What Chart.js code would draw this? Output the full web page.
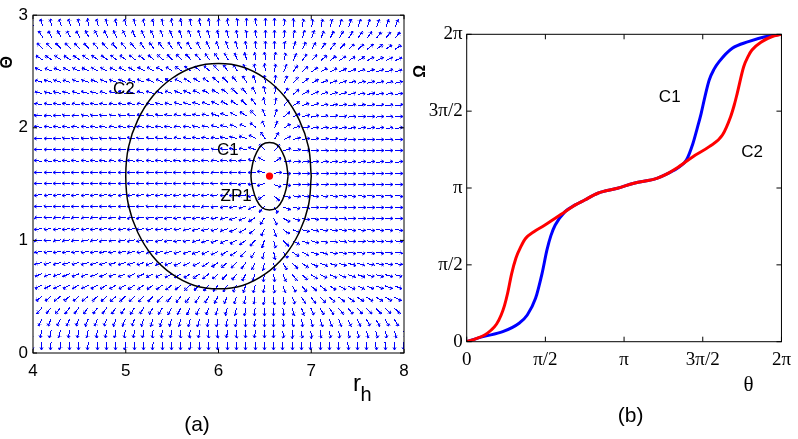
<!DOCTYPE html>
<html>
<head>
<meta charset="utf-8">
<script src="https://cdn.jsdelivr.net/npm/chart.js@4.4.1/dist/chart.umd.min.js"></script>
<style>
  html, body { margin: 0; padding: 0; background: #fff; }
  #wrap { position: relative; width: 798px; height: 439px; overflow: hidden; }
  canvas { position: absolute; top: 0; }
  #ca { left: 0; }
  #cb { left: 400px; }
</style>
</head>
<body>
<div id="wrap">
  <canvas id="ca" width="420" height="439"></canvas>
  <canvas id="cb" width="398" height="439"></canvas>
</div>
<script>
// ---- panel (a): vector field on the (r_h, Theta) plane ----
const rhGrid = [4.0, 4.1, 4.2, 4.3, 4.4, 4.5, 4.6, 4.7, 4.8, 4.9, 5.0, 5.1, 5.2, 5.3, 5.4, 5.5, 5.6, 5.7, 5.8, 5.9,
  6.0, 6.1, 6.2, 6.3, 6.4, 6.5, 6.6, 6.7, 6.8, 6.9, 7.0, 7.1, 7.2, 7.3, 7.4, 7.5, 7.6, 7.7, 7.8, 7.9, 8.0]
const thetaGrid = [0.1, 0.2, 0.3, 0.4, 0.5, 0.6, 0.7, 0.8, 0.9, 1.0, 1.1, 1.2, 1.3, 1.4, 1.5,
  1.6, 1.7, 1.8, 1.9, 2.0, 2.1, 2.2, 2.3, 2.4, 2.5, 2.6, 2.7, 2.8, 2.9]
// horizontal arrow component per r_h column
const fieldU = [-5.2, -5.1, -5.0, -4.9, -4.8, -4.7, -4.6, -4.5, -4.4, -4.3, -4.2, -4.0, -3.9, -3.7, -3.5, -3.3, -3.1,
  -2.9, -2.6, -2.3, -2.0, -1.7, -1.35, -1.0, -0.65, -0.25, 0.2, 0.8, 1.5, 2.2, 2.9, 3.6, 4.2, 4.7, 5.2, 5.6, 6.0,
  6.4, 6.8, 7.1, 7.4]
// vertical arrow component per Theta row
const fieldV = [-100, -25, -11, -6.1, -3.8, -2.6, -1.85, -1.35, -1.0, -0.76, -0.57, -0.42, -0.29, -0.18, -0.07,
  0.03, 0.13, 0.24, 0.36, 0.5, 0.68, 0.9, 1.2, 1.6, 2.2, 3.2, 5.0, 8.4, 17]

const c1Rh = [6.75, 6.73, 6.69, 6.63, 6.55, 6.47, 6.41, 6.37, 6.35, 6.37, 6.41, 6.47, 6.55, 6.63, 6.69, 6.73, 6.75]
const c1Th = [1.57, 1.69, 1.78, 1.85, 1.87, 1.85, 1.78, 1.69, 1.57, 1.46, 1.36, 1.29, 1.27, 1.29, 1.36, 1.46, 1.57]
const c2Rh = [7.00, 6.97, 6.87, 6.71, 6.50, 6.26, 6.00, 5.74, 5.50, 5.29, 5.13, 5.03, 5.00,
  5.03, 5.13, 5.29, 5.50, 5.74, 6.00, 6.26, 6.50, 6.71, 6.87, 6.97, 7.00]
const c2Th = [1.57, 1.83, 2.07, 2.28, 2.44, 2.54, 2.57, 2.54, 2.44, 2.28, 2.07, 1.83, 1.57,
  1.31, 1.07, 0.86, 0.70, 0.60, 0.57, 0.60, 0.70, 0.86, 1.07, 1.31, 1.57]
const zeroPoint = [6.55, 1.571]

// ---- panel (b): Omega against theta, both in units of pi ----
const c1Theta = [0, 0.104, 0.229, 0.333, 0.385, 0.4375, 0.479, 0.51, 0.535, 0.5625, 0.625, 0.69, 0.75, 0.833, 0.958,
  1.0625, 1.208, 1.27, 1.354, 1.396, 1.4375, 1.465, 1.49, 1.515, 1.541, 1.57, 1.604, 1.6875, 1.79, 1.896, 2]
const c1Omega = [0, 0.033, 0.065, 0.12, 0.174, 0.282, 0.445, 0.597, 0.69, 0.759, 0.846, 0.89, 0.922, 0.966, 0.998,
  1.031, 1.063, 1.09, 1.139, 1.182, 1.29, 1.39, 1.486, 1.6, 1.703, 1.77, 1.822, 1.909, 1.952, 1.984, 2]
const c2Theta = [0, 0.06, 0.114, 0.156, 0.19, 0.219, 0.24, 0.26, 0.285, 0.3125, 0.345, 0.375, 0.427, 0.49, 0.5625,
  0.625, 0.69, 0.75, 0.833, 0.958, 1.0625, 1.208, 1.27, 1.333, 1.4375, 1.541, 1.625, 1.677, 1.70, 1.719, 1.76,
  1.79, 1.8125, 1.875, 1.9375, 2]
const c2Omega = [0, 0.02, 0.044, 0.076, 0.115, 0.174, 0.235, 0.315, 0.44, 0.543, 0.62, 0.673, 0.716, 0.755, 0.803,
  0.846, 0.89, 0.922, 0.966, 0.998, 1.031, 1.063, 1.09, 1.128, 1.204, 1.269, 1.345, 1.464, 1.54, 1.616, 1.789,
  1.86, 1.898, 1.952, 1.984, 2]
const piLabels = ['0', 'π/2', 'π', '3π/2', '2π']

const toXY = (xs, ys) => xs.map((x, i) => ({ x, y: ys[i] }))

// arrow glyph with its tail at the image centre, so rotation keeps the tail on the grid point
function arrowImage(len) {
  const c = document.createElement('canvas')
  const s = Math.ceil(len) * 2 + 6
  c.width = s
  c.height = s
  const g = c.getContext('2d')
  const m = s / 2
  g.strokeStyle = '#0000ff'
  g.lineWidth = 1
  g.beginPath()
  g.moveTo(m, m + 0.5)
  g.lineTo(m + len, m + 0.5)
  g.moveTo(m + len - 2.6, m - 1)
  g.lineTo(m + len, m + 0.5)
  g.lineTo(m + len - 2.6, m + 2)
  g.stroke()
  return c
}

// the arrow images are rotated by the chart; keep their pixels crisp like the printed quiver
const crispImages = {
  id: 'crispImages',
  beforeDatasetsDraw(chart) { chart.ctx.imageSmoothingEnabled = false },
  afterDatasetsDraw(chart) { chart.ctx.imageSmoothingEnabled = true },
}

// inward tick marks plus the axes box
function framePlugin(len) {
  return {
    id: 'frame',
    afterDatasetsDraw(chart) {
      const { ctx, chartArea: a, scales: { x, y } } = chart
      ctx.save()
      ctx.strokeStyle = '#000'
      ctx.lineWidth = 1
      ctx.beginPath()
      x.ticks.forEach(t => {
        const px = x.getPixelForValue(t.value)
        ctx.moveTo(px, a.bottom); ctx.lineTo(px, a.bottom - len)
        ctx.moveTo(px, a.top); ctx.lineTo(px, a.top + len)
      })
      y.ticks.forEach(t => {
        const py = y.getPixelForValue(t.value)
        ctx.moveTo(a.left, py); ctx.lineTo(a.left + len, py)
        ctx.moveTo(a.right, py); ctx.lineTo(a.right - len, py)
      })
      ctx.stroke()
      ctx.strokeRect(a.left, a.top, a.width, a.height)
      ctx.restore()
    },
  }
}

// labels: either at data coordinates (at) or offset from a chart-area edge
function notesPlugin(items) {
  return {
    id: 'notes',
    afterDraw(chart) {
      const { ctx, chartArea: a, scales: { x, y } } = chart
      ctx.save()
      ctx.fillStyle = '#000'
      ctx.textAlign = 'center'
      ctx.textBaseline = 'middle'
      items.forEach(n => {
        const px = n.at ? x.getPixelForValue(n.at[0]) : a[n.ax] + n.dx
        const py = n.at ? y.getPixelForValue(n.at[1]) : a[n.ay] + n.dy
        ctx.font = n.font
        ctx.save()
        ctx.translate(px, py)
        if (n.rot) ctx.rotate(n.rot)
        ctx.fillText(n.text, 0, 0)
        ctx.restore()
      })
      ctx.restore()
    },
  }
}

const sans = '"Liberation Sans", Arial, Helvetica, sans-serif'
const serif = '"Liberation Serif", "Times New Roman", serif'

const fieldPoints = []
thetaGrid.forEach((th, j) => rhGrid.forEach((rh, i) => fieldPoints.push({ x: rh, y: th, u: fieldU[i], v: fieldV[j] })))

new Chart(document.getElementById('ca'), {
  type: 'scatter',
  data: {
    datasets: [
      {
        data: [{ x: zeroPoint[0], y: zeroPoint[1] }],
        pointRadius: 3.6,
        backgroundColor: '#ff0000',
        borderWidth: 0,
      },
      {
        data: toXY(c1Rh, c1Th),
        showLine: true,
        tension: 0.4,
        pointRadius: 0,
        borderColor: '#000',
        borderWidth: 1.5,
      },
      {
        data: toXY(c2Rh, c2Th),
        showLine: true,
        tension: 0.4,
        pointRadius: 0,
        borderColor: '#000',
        borderWidth: 1.5,
      },
      {
        data: fieldPoints,
        pointStyle: arrowImage(8),
        pointRadius: 1,
        rotation: ctx => Math.atan2(-ctx.raw.v, ctx.raw.u) * 180 / Math.PI,
        clip: 0,
      },
    ],
  },
  options: {
    responsive: false,
    animation: false,
    events: [],
    layout: { padding: { top: 14, right: 16, left: 0, bottom: 0 } },
    plugins: {
      legend: { display: false },
      tooltip: { enabled: false },
    },
    scales: {
      x: {
        type: 'linear', min: 4, max: 8,
        grid: { display: false, drawTicks: false },
        border: { display: false },
        ticks: { stepSize: 1, color: '#000', padding: 8, font: { family: sans, size: 17 } },
        afterFit: s => { s.height = 86 },
      },
      y: {
        type: 'linear', min: 0, max: 3,
        grid: { display: false, drawTicks: false },
        border: { display: false },
        ticks: { stepSize: 1, color: '#000', padding: 5, font: { family: sans, size: 17 } },
        afterFit: s => { s.width = 33 },
      },
    },
  },
  plugins: [
    crispImages,
    framePlugin(4),
    notesPlugin([
      { text: 'C2', at: [4.98, 2.345], font: '17px ' + sans },
      { text: 'C1', at: [6.10, 1.80], font: '17px ' + sans },
      { text: 'ZP1', at: [6.19, 1.39], font: '17px ' + sans },
      { text: 'r', ax: 'right', dx: -47, ay: 'bottom', dy: 31, font: '24px ' + sans },
      { text: 'h', ax: 'right', dx: -38, ay: 'bottom', dy: 42, font: '20px ' + sans },
      { text: '(a)', ax: 'left', dx: 164, ay: 'bottom', dy: 72, font: '21px ' + sans },
      { text: 'Θ', ax: 'left', dx: -25, ay: 'top', dy: 47, rot: -Math.PI / 2, font: 'bold 16px ' + sans },
    ]),
  ],
})

new Chart(document.getElementById('cb'), {
  type: 'line',
  data: {
    datasets: [
      {
        data: toXY(c2Theta, c2Omega),
        borderColor: '#ff0000',
        borderWidth: 3,
        pointRadius: 0,
        cubicInterpolationMode: 'monotone',
      },
      {
        data: toXY(c1Theta, c1Omega),
        borderColor: '#0000ff',
        borderWidth: 3,
        pointRadius: 0,
        cubicInterpolationMode: 'monotone',
      },
    ],
  },
  options: {
    responsive: false,
    animation: false,
    events: [],
    layout: { padding: { top: 34.3, right: 11.3, left: 0, bottom: 0 } },
    plugins: {
      legend: { display: false },
      tooltip: { enabled: false },
    },
    scales: {
      x: {
        type: 'linear', min: 0, max: 2,
        grid: { display: false, drawTicks: false },
        border: { display: false },
        ticks: {
          stepSize: 0.5, color: '#000', padding: 7, maxRotation: 0,
          font: { family: serif, size: 19 },
          callback: v => piLabels[Math.round(v * 2)],
        },
        afterFit: s => { s.height = 97.3 },
      },
      y: {
        type: 'linear', min: 0, max: 2,
        grid: { display: false, drawTicks: false },
        border: { display: false },
        ticks: {
          stepSize: 0.5, color: '#000', padding: 4,
          font: { family: serif, size: 19 },
          callback: v => piLabels[Math.round(v * 2)],
        },
        afterFit: s => { s.width = 66.7 },
      },
    },
  },
  plugins: [
    framePlugin(5),
    notesPlugin([
      { text: 'C1', at: [1.29, 1.592], font: '17px ' + sans },
      { text: 'C2', at: [1.814, 1.234], font: '17px ' + sans },
      { text: 'θ', ax: 'right', dx: -33, ay: 'bottom', dy: 44, font: '21px ' + serif },
      { text: '(b)', ax: 'left', dx: 164, ay: 'bottom', dy: 75, font: '21px ' + sans },
      { text: 'Ω', ax: 'left', dx: -45.7, ay: 'top', dy: 37, rot: -Math.PI / 2, font: 'bold 16px ' + sans },
    ]),
  ],
})
</script>
</body>
</html>
